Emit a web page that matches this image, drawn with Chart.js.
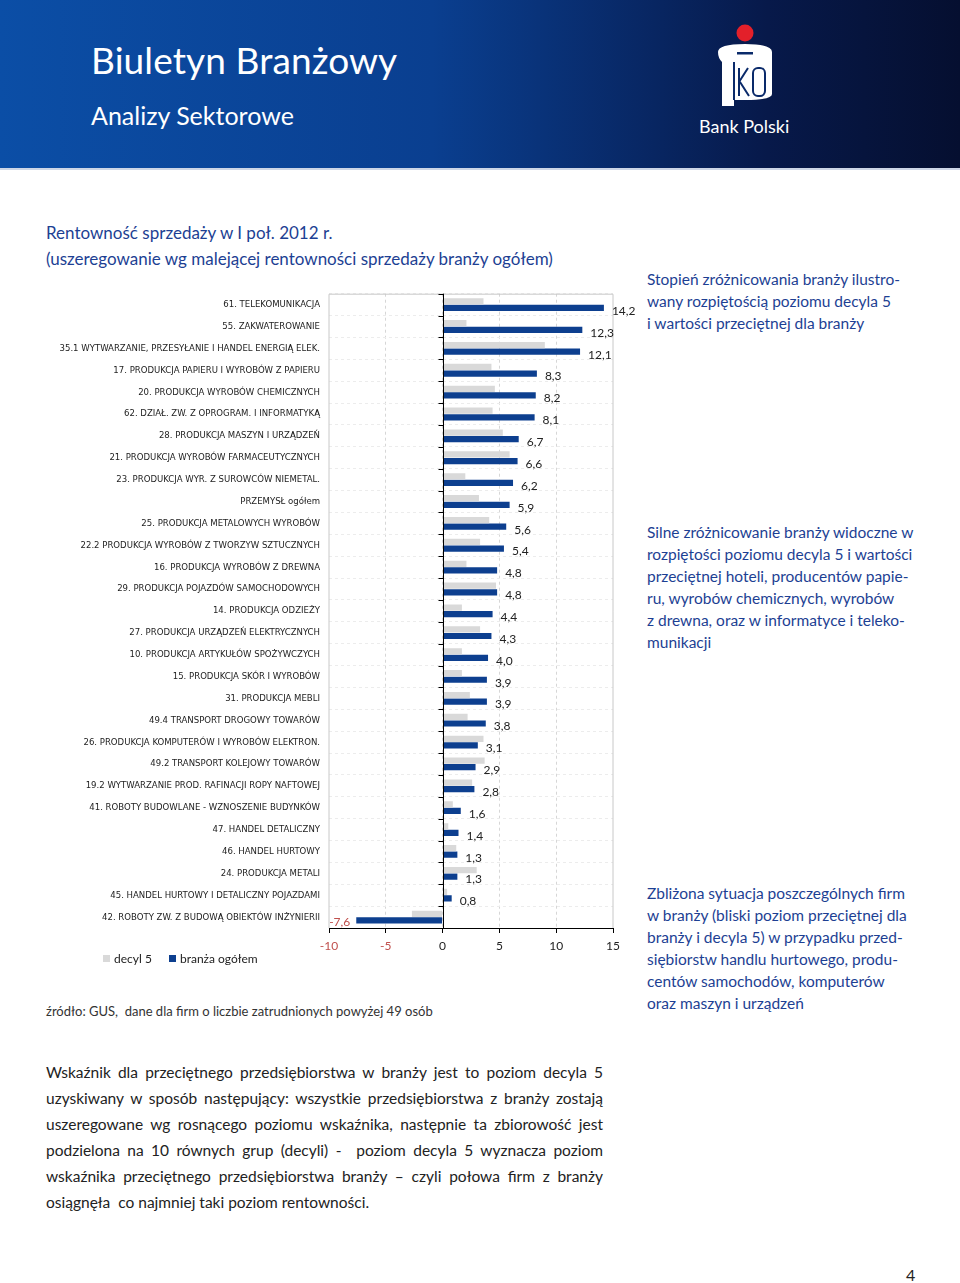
<!DOCTYPE html>
<html lang="pl">
<head>
<meta charset="utf-8">
<title>Biuletyn Branżowy – Rentowność sprzedaży</title>
<script src="https://cdn.jsdelivr.net/npm/chart.js@4.4.1/dist/chart.umd.min.js"></script>
<style>
    body { margin: 0; background: #fff; font-family: Lato, "Open Sans", sans-serif; }
    #page { position: relative; width: 960px; height: 1283px; overflow: hidden; }
    #header {
        position: absolute; left: 0; top: 0; width: 960px; height: 168px;
        background: linear-gradient(to right, #0b4ea6 0%, #0a3f90 45%, #07194a 80%, #050f30 100%);
        border-bottom: 2px solid #cdd6e6;
    }
    .abs { position: absolute; white-space: nowrap; }
    .h1 { left: 91px; top: 37px; font-size: 37px; color: #fff; letter-spacing: 0.1px; }
    .h2 { left: 91px; top: 100px; font-size: 25px; color: #fff; }
    .bank { left: 699px; top: 115px; font-size: 18px; color: #fff; }
    .ctitle { left: 46px; font-size: 17px; color: #1d3f93; }
    .side { left: 647px; font-size: 15.5px; line-height: 22px; color: #1d3f93; }
    .src { left: 46px; top: 1003px; font-size: 13px; color: #333; }
    #para { position: absolute; left: 46px; top: 1059px; width: 557px; font-size: 15.5px; line-height: 26px; color: #222; }
    #para div { text-align: justify; text-align-last: justify; white-space: nowrap; }
    #para div.last { text-align-last: left; }
    #chartBox { position: absolute; left: 40px; top: 279px; width: 620px; height: 679px; }
    #legend { position: absolute; left: 103px; top: 951px; font-size: 12px; color: #222; }
    #legend span.sw { display: inline-block; width: 7px; height: 7px; margin-right: 4px; vertical-align: 1px; }
    .pnum { left: 906px; top: 1265px; font-size: 16px; color: #222; }
</style>
</head>
<body>
<div id="page">
    <div id="header"></div>
    <div class="abs h1">Biuletyn Branżowy</div>
    <div class="abs h2">Analizy Sektorowe</div>
    <svg class="abs" style="left:712px;top:22px" width="66" height="86" viewBox="0 0 66 86">
        <circle cx="33" cy="11" r="8.5" fill="#e3202a"/>
        <path d="M6 30 Q6 22 33 22 Q60 22 60 30 L60 72 Q60 78 33 78 L22 78 L22 84 L10 84 L10 40 Q6 36 6 30 Z" fill="#fff"/>
        <rect x="25" y="30" width="16" height="2.5" fill="#0a2a6a"/>
        <rect x="21" y="40" width="2" height="38" fill="#0a2a6a"/>
        <path d="M27 46 L27 74 M27 60 L36 46 M28 60 L37 74" stroke="#0a2a6a" stroke-width="2" fill="none"/>
        <rect x="41" y="46" width="12" height="28" rx="5" fill="none" stroke="#0a2a6a" stroke-width="2"/>
    </svg>
    <div class="abs bank">Bank Polski</div>

    <div class="abs ctitle" style="top:222px">Rentowność sprzedaży w I poł. 2012 r.</div>
    <div class="abs ctitle" style="top:248px">(uszeregowanie wg malejącej rentowności sprzedaży branży ogółem)</div>

    <div class="abs side" style="top:268px">Stopień zróżnicowania branży ilustro-<br>wany rozpiętością poziomu decyla 5<br>i wartości przeciętnej dla branży</div>
    <div class="abs side" style="top:521px">Silne zróżnicowanie branży widoczne w<br>rozpiętości poziomu decyla 5 i wartości<br>przeciętnej hoteli, producentów papie-<br>ru, wyrobów chemicznych, wyrobów<br>z drewna, oraz w informatyce i teleko-<br>munikacji</div>
    <div class="abs side" style="top:882px">Zbliżona sytuacja poszczególnych firm<br>w branży (bliski poziom przeciętnej dla<br>branży i decyla 5) w przypadku przed-<br>siębiorstw handlu hurtowego, produ-<br>centów samochodów, komputerów<br>oraz maszyn i urządzeń</div>

    <div id="chartBox"><canvas id="profitChart"></canvas></div>
    <div id="legend">
        <span class="sw" style="background:#d9d9d9"></span>decyl 5
        <span class="sw" style="background:#0d3f8f;margin-left:14px"></span>branża ogółem
    </div>

    <div class="abs src">źródło: GUS,&nbsp; dane dla firm o liczbie zatrudnionych powyżej 49 osób</div>

    <div id="para">
        <div>Wskaźnik dla przeciętnego przedsiębiorstwa w branży jest to poziom decyla 5</div>
        <div>uzyskiwany w sposób następujący: wszystkie przedsiębiorstwa z branży zostają</div>
        <div>uszeregowane wg rosnącego poziomu wskaźnika, następnie ta zbiorowość jest</div>
        <div>podzielona na 10 równych grup (decyli) -&nbsp; poziom decyla 5 wyznacza poziom</div>
        <div>wskaźnika przeciętnego przedsiębiorstwa branży – czyli połowa firm z branży</div>
        <div class="last">osiągnęła&nbsp; co najmniej taki poziom rentowności.</div>
    </div>
    <div class="abs pnum">4</div>
</div>

<script>
// Sectors sorted by sales profitability (branża ogółem), H1 2012
const sectors = [
    '61. TELEKOMUNIKACJA',
    '55. ZAKWATEROWANIE',
    '35.1 WYTWARZANIE, PRZESYŁANIE I HANDEL ENERGIĄ ELEK.',
    '17. PRODUKCJA PAPIERU I WYROBÓW Z PAPIERU',
    '20. PRODUKCJA WYROBÓW CHEMICZNYCH',
    '62. DZIAŁ. ZW. Z OPROGRAM. I INFORMATYKĄ',
    '28. PRODUKCJA MASZYN I URZĄDZEŃ',
    '21. PRODUKCJA WYROBÓW FARMACEUTYCZNYCH',
    '23. PRODUKCJA WYR. Z SUROWCÓW NIEMETAL.',
    'PRZEMYSŁ ogółem',
    '25. PRODUKCJA METALOWYCH WYROBÓW',
    '22.2 PRODUKCJA WYROBÓW Z TWORZYW SZTUCZNYCH',
    '16. PRODUKCJA WYROBÓW Z DREWNA',
    '29. PRODUKCJA POJAZDÓW SAMOCHODOWYCH',
    '14. PRODUKCJA ODZIEŻY',
    '27. PRODUKCJA URZĄDZEŃ ELEKTRYCZNYCH',
    '10. PRODUKCJA ARTYKUŁÓW SPOŻYWCZYCH',
    '15. PRODUKCJA SKÓR I WYROBÓW',
    '31. PRODUKCJA MEBLI',
    '49.4 TRANSPORT DROGOWY TOWARÓW',
    '26. PRODUKCJA KOMPUTERÓW I WYROBÓW ELEKTRON.',
    '49.2 TRANSPORT KOLEJOWY TOWARÓW',
    '19.2 WYTWARZANIE PROD. RAFINACJI ROPY NAFTOWEJ',
    '41. ROBOTY BUDOWLANE - WZNOSZENIE BUDYNKÓW',
    '47. HANDEL DETALICZNY',
    '46. HANDEL HURTOWY',
    '24. PRODUKCJA METALI',
    '45. HANDEL HURTOWY I DETALICZNY POJAZDAMI',
    '42. ROBOTY ZW. Z BUDOWĄ OBIEKTÓW INŻYNIERII'
];

// decyl 5
const decile5 = [3.6, 2.1, 9.0, 4.3, 4.6, 4.4, 5.3, 5.9, 2.0, 3.2,
                 4.1, 3.3, 2.1, 4.7, 1.7, 3.3, 1.7, 1.7, 2.4, 2.2,
                 3.6, 3.7, 2.6, 0.9, 0.5, 1.2, 3.0, 0.4, -2.7];

// branża ogółem (labelled values)
const sectorTotal = [14.2, 12.3, 12.1, 8.3, 8.2, 8.1, 6.7, 6.6, 6.2, 5.9,
                     5.6, 5.4, 4.8, 4.8, 4.4, 4.3, 4.0, 3.9, 3.9, 3.8,
                     3.1, 2.9, 2.8, 1.6, 1.4, 1.3, 1.3, 0.8, -7.6];

const xTicks = [-10, -5, 0, 5, 10, 15];

const NAVY = '#0d3f8f';
const GREY = '#d9d9d9';
const RED = '#c0504d';

// frame, small ticks on the zero line and value labels for the navy bars
const decorPlugin = {
    id: 'decor',
    afterDraw(chart) {
        const ctx = chart.ctx;
        const area = chart.chartArea;
        const x = chart.scales.x, y = chart.scales.y;

        ctx.save();
        ctx.strokeStyle = '#c8c8c8';
        ctx.lineWidth = 1;
        ctx.beginPath();
        ctx.moveTo(area.left, area.bottom);
        ctx.lineTo(area.left, area.top + 0.5);
        ctx.lineTo(area.right, area.top + 0.5);
        ctx.lineTo(area.right, area.bottom);
        ctx.stroke();

        const x0 = Math.round(x.getPixelForValue(0)) + 0.5;
        ctx.strokeStyle = '#000';
        ctx.beginPath();
        ctx.moveTo(x0, area.top);
        ctx.lineTo(x0, area.bottom);
        for (let i = 0; i <= sectors.length; i++) {
            const yy = Math.round(y.getPixelForValue(i - 0.5)) + 0.5;
            ctx.moveTo(x0 - 5, yy);
            ctx.lineTo(x0, yy);
        }
        ctx.stroke();

        ctx.font = '12px Lato, "Open Sans", sans-serif';
        ctx.textBaseline = 'middle';
        chart.getDatasetMeta(1).data.forEach((bar, i) => {
            const v = sectorTotal[i];
            const txt = v.toFixed(1).replace('.', ',');
            if (v < 0) {
                ctx.fillStyle = RED;
                ctx.textAlign = 'right';
                ctx.fillText(txt, bar.x - 6, bar.y + 2);
            } else {
                ctx.fillStyle = '#222';
                ctx.textAlign = 'left';
                ctx.fillText(txt, bar.x + 8, bar.y + 3);
            }
        });
        ctx.restore();
    }
};

const chartCtx = document.getElementById('profitChart').getContext('2d');
new Chart(chartCtx, {
    type: 'bar',
    data: {
        labels: sectors,
        datasets: [
            {
                label: 'decyl 5',
                data: decile5,
                backgroundColor: GREY,
                borderWidth: 0,
                categoryPercentage: 0.6,
                barPercentage: 0.95
            },
            {
                label: 'branża ogółem',
                data: sectorTotal,
                backgroundColor: NAVY,
                borderWidth: 0,
                categoryPercentage: 0.6,
                barPercentage: 0.95
            }
        ]
    },
    options: {
        indexAxis: 'y',
        responsive: true,
        maintainAspectRatio: false,
        animation: false,
        layout: { padding: { top: 7, right: 47, left: 0, bottom: 0 } },
        plugins: {
            legend: { display: false },
            tooltip: { enabled: false }
        },
        scales: {
            x: {
                min: -10,
                max: 15,
                afterBuildTicks: scale => { scale.ticks = xTicks.map(v => ({ value: v })); },
                afterFit: scale => { scale.height = 30; },
                grid: {
                    color: ctx => (ctx.tick && (ctx.tick.value === -10 || ctx.tick.value === 15)) ? 'rgba(0,0,0,0)' : '#d6d6d6',
                    drawTicks: true,
                    tickLength: 5,
                    tickColor: '#000'
                },
                border: { display: true, color: '#000', width: 1, dash: [3, 3] },
                ticks: {
                    padding: 6,
                    color: ctx => ctx.tick.value < 0 ? RED : '#222',
                    font: { family: 'Lato, "Open Sans", sans-serif', size: 12 },
                    callback: v => String(v)
                }
            },
            y: {
                afterFit: scale => { scale.width = 289; },
                grid: {
                    offset: true,
                    color: '#ececec',
                    drawTicks: false
                },
                border: { display: false, dash: [3, 3] },
                ticks: {
                    autoSkip: false,
                    padding: 9,
                    color: '#222',
                    font: { family: '"Liberation Sans Narrow", "DejaVu Sans Condensed", sans-serif', size: 9.5 }
                }
            }
        }
    },
    plugins: [decorPlugin]
});
</script>
</body>
</html>
